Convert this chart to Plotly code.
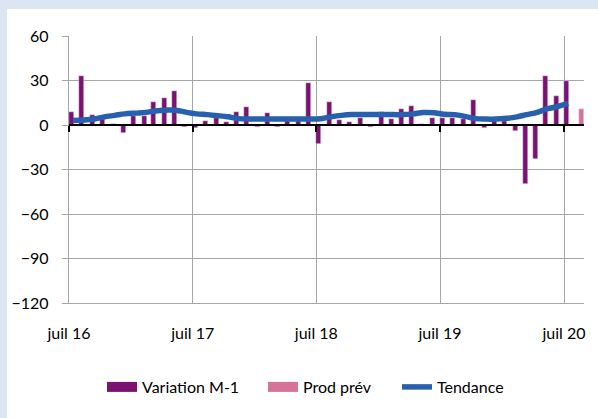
import plotly.graph_objects as go
import pandas as pd

# ---- data ----
months = pd.date_range('2016-07-01', '2020-07-01', freq='MS')
variation_m1 = [9, 33, 7, 4, 1, -5.5, 6, 6, 15.5, 18, 23, -1.5,
                -2, 3, 5, 2, 9, 12, -1.5, 8, -1.5, 3, 3, 28,
                -12.5, 15.5, 3.5, 2, 5, -1.5, 9, 4, 10.5, 13, 1, 5,
                5, 5, 4, 17, -2, 2.5, 2.5, -4, -40, -23, 33, 19.5,
                29.5]
tendance = [3, 3.3, 4, 5.5, 6.5, 7.5, 8, 8.5, 9.5, 10, 10, 8.5,
            7.5, 7, 6.3, 5.5, 4.3, 4, 4, 4, 4, 4, 4, 4,
            4.2, 5.5, 6.5, 7, 7, 7, 7, 7, 7, 7.5, 8.4, 8.3,
            7.3, 7, 5.8, 4.3, 4, 4, 4.5, 5.5, 7, 8.5, 11, 12.5,
            14.5]
prev_months = pd.to_datetime(['2020-08-01'])
prod_prev = [10.5]
tick_dates = ['2016-07-01', '2017-07-01', '2018-07-01', '2019-07-01', '2020-07-01']
tick_labels = ['juil 16', 'juil 17', 'juil 18', 'juil 19', 'juil 20']
y_ticks = [60, 30, 0, -30, -60, -90, -120]

PURPLE = '#7B1171'
PINK = '#D57399'
BLUE = '#2660AE'
GRID = '#A6A6A6'
FONT = 'Lato, Liberation Sans, sans-serif'
DAY = 86400000

W, H = 598, 418
L, R, T, B = 69, 14, 36, 115
pw, ph = W - L - R, H - T - B

def px_x(p):
    return (p - L) / pw

def px_y(p):
    return (H - B - p) / ph

fig = go.Figure()

fig.add_trace(go.Bar(x=months + pd.Timedelta(days=7), y=variation_m1,
                     width=15 * DAY, marker_color=PURPLE, showlegend=False,
                     name='Variation M-1'))
fig.add_trace(go.Bar(x=prev_months + pd.Timedelta(days=20), y=prod_prev,
                     width=16 * DAY, marker_color=PINK, showlegend=False,
                     name='Prod prév'))

# legend entries (wide swatches)
fig.add_trace(go.Scatter(x=[None], y=[None], mode='lines', name='Variation M-1',
                         line=dict(color=PURPLE, width=13), legend='legend'))
fig.add_trace(go.Scatter(x=[None], y=[None], mode='lines', name='Prod prév',
                         line=dict(color=PINK, width=13), legend='legend2'))

fig.add_trace(go.Scatter(x=months + pd.Timedelta(days=12), y=tendance, mode='lines',
                         name='Tendance', xaxis='x2', legend='legend3',
                         line=dict(color=BLUE, width=5.5, shape='spline')))

x_range = ['2016-07-01', '2020-08-29']

leg_common = dict(orientation='h', xanchor='left', y=px_y(387), yanchor='middle',
                  bgcolor='rgba(0,0,0,0)', font=dict(size=16))

fig.update_layout(
    width=W, height=H,
    margin=dict(l=L, r=R, t=T, b=B),
    paper_bgcolor='#DCE6F2',
    plot_bgcolor='rgba(0,0,0,0)',
    font=dict(family=FONT, size=16, color='#000000'),
    barmode='overlay',
    bargap=0,
    xaxis=dict(type='date', range=x_range, tickvals=tick_dates, ticktext=tick_labels,
               showgrid=True, gridcolor=GRID, gridwidth=1.3,
               showline=True, linecolor=GRID, linewidth=1.3,
               ticks='', ticklabelstandoff=16, zeroline=False,
               tickfont=dict(size=16)),
    xaxis2=dict(type='date', matches='x', overlaying='x', anchor='free',
                position=2 / 3, side='bottom', tickvals=tick_dates,
                showticklabels=False, showgrid=False, zeroline=False,
                showline=True, linecolor='#000000', linewidth=1.5,
                ticks='outside', ticklen=6, tickcolor='#000000', tickwidth=1.5),
    yaxis=dict(range=[-120, 60], tickvals=y_ticks, showgrid=True,
               gridcolor=GRID, gridwidth=1.3, zeroline=False,
               showline=True, linecolor=GRID, linewidth=1.3,
               ticks='outside', ticklen=6, tickcolor=GRID, tickwidth=1.3,
               ticklabelstandoff=10, tickfont=dict(size=16)),
    legend=dict(x=px_x(102), **leg_common),
    legend2=dict(x=px_x(263), **leg_common),
    legend3=dict(x=px_x(397), **leg_common),
    shapes=[dict(type='rect', xref='paper', yref='paper', layer='below',
                 x0=px_x(7), x1=px_x(W + 5), y0=px_y(H + 5), y1=px_y(9),
                 fillcolor='#FFFFFF', line=dict(width=0))],
)

fig.write_html('out.html', config={'displayModeBar': False},
               post_script="document.body.style.margin='0px';")
